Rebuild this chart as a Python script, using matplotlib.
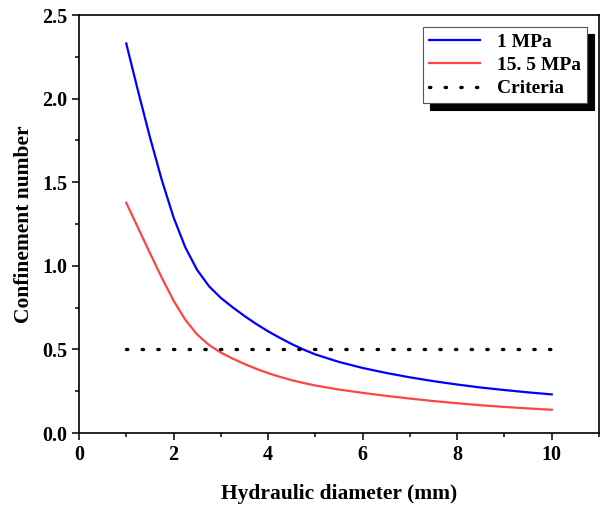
import matplotlib
matplotlib.use("Agg")
import matplotlib.pyplot as plt
from matplotlib.ticker import MultipleLocator

plt.rcParams["font.family"] = ["Liberation Serif", "DejaVu Serif"]
plt.rcParams["font.weight"] = "bold"

# 数据点
diam = [1.0, 1.25, 1.5, 1.75, 2.0, 2.25, 2.5, 2.75, 3.0, 3.25, 3.5, 3.75, 4.0, 4.25, 4.5, 4.75,
        5.0, 5.5, 6.0, 6.5, 7.0, 7.5, 8.0, 8.5, 9.0, 9.5, 10.0]
co_1mpa = [2.33, 2.045, 1.77, 1.515, 1.29, 1.11, 0.975, 0.878, 0.808, 0.752, 0.70, 0.652, 0.608,
           0.569, 0.532, 0.499, 0.47, 0.425, 0.389, 0.359, 0.333, 0.31, 0.29, 0.272, 0.257, 0.243, 0.231]
co_155mpa = [1.377, 1.227, 1.077, 0.93, 0.792, 0.677, 0.589, 0.527, 0.481, 0.445, 0.413, 0.384,
             0.358, 0.336, 0.316, 0.299, 0.284, 0.26, 0.24, 0.222, 0.206, 0.191, 0.178, 0.166, 0.156,
             0.147, 0.139]

criteria_x = [1.0, 10.0]
criteria_y = [0.5, 0.5]

fig = plt.figure(figsize=(6.01, 5.09), dpi=100)
ax = fig.add_axes([0.1314, 0.1493, 0.8653, 0.8212])

ax.plot(diam, co_1mpa, color="#0000ff", lw=1.6, solid_joinstyle="round", label="1 MPa")
ax.plot(diam, co_155mpa, color="#ff4444", lw=1.6, solid_joinstyle="round", label="15. 5 MPa")
ax.plot(criteria_x, criteria_y, color="black", lw=2.4, linestyle=(0, (0.4, 4.3)),
        dash_capstyle="round", label="Criteria")

ax.set_xlim(0, 11)
ax.set_ylim(0, 2.5)
ax.xaxis.set_major_locator(MultipleLocator(2))
ax.xaxis.set_minor_locator(MultipleLocator(1))
ax.yaxis.set_major_locator(MultipleLocator(0.5))
ax.yaxis.set_minor_locator(MultipleLocator(0.25))
ax.yaxis.set_major_formatter(plt.FormatStrFormatter("%.1f"))

ax.tick_params(which="both", direction="out", width=1.1, labelsize=14.5)
ax.tick_params(which="major", length=5)
ax.tick_params(which="minor", length=3)
for s in ax.spines.values():
    s.set_linewidth(1.2)

ax.set_xlabel("Hydraulic diameter (mm)", fontsize=15.5, fontweight="bold", labelpad=14)
ax.set_ylabel("Confinement number", fontsize=15.5, fontweight="bold", labelpad=6)

leg = ax.legend(loc="upper right", bbox_to_anchor=(0.977, 0.971), borderaxespad=0,
                fontsize=14, fancybox=False, edgecolor="#555555", framealpha=1,
                handlelength=2.6, borderpad=0.3, labelspacing=0.3, handletextpad=0.9,
                shadow={"ox": 5, "oy": -5, "color": "black", "alpha": 1})
leg.get_frame().set_linewidth(0.8)

fig.savefig("out.png", dpi=100)
